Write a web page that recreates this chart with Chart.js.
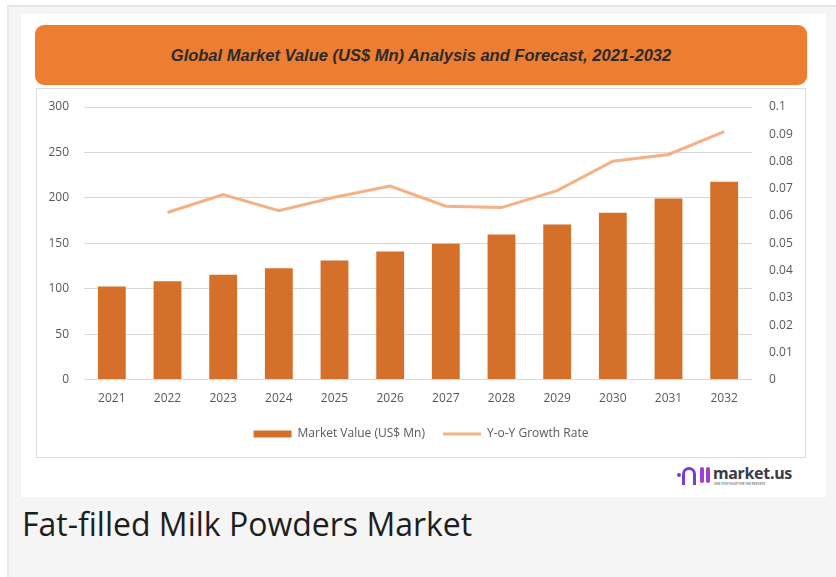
<!DOCTYPE html>
<html>
<head>
<meta charset="utf-8">
<script src="https://cdn.jsdelivr.net/npm/chart.js@4.4.1/dist/chart.umd.min.js"></script>
<style>
  body { margin: 0; background: #fff; font-family: "Open Sans", sans-serif; }
  .frame { position: absolute; left: 7px; top: 5px; width: 840px; height: 580px; background: #f5f5f5; border: 2px solid #e6e6e6; box-sizing: border-box; }
  .card { position: absolute; left: 21px; top: 14px; width: 805px; height: 483px; background: #fff; }
  .title { position: absolute; left: 35px; top: 25px; width: 772px; height: 60px; background: #ed7d31; border-radius: 9px;
           font: italic bold 16.5px "Liberation Sans Narrow", "Liberation Sans", sans-serif; color: #2b2b2b;
           display: flex; align-items: center; justify-content: center; }
  .box { position: absolute; left: 36px; top: 88px; width: 770px; height: 370px; border: 1px solid #dcdcdc; box-sizing: border-box; }
  .logo { position: absolute; left: 676px; top: 464px; width: 120px; height: 24px; }
  .logo .dot { position: absolute; left: 1px; top: 9px; width: 4px; height: 4px; border-radius: 50%; background: #6b3fd9; }
  .logo .arch { position: absolute; left: 6px; top: 3px; width: 8px; height: 15px; border: 3.5px solid #7a3cd8; border-bottom: none; border-radius: 7px 7px 0 0; }
  .logo .bar { position: absolute; top: 3px; width: 4px; height: 16px; border-radius: 2px; background: #a53bd6; }
  .logo .name { position: absolute; left: 37px; top: -2px; font: bold 16px "Noto Sans", sans-serif; color: #3b3b48; letter-spacing: -0.3px; }
  .logo .tag { position: absolute; left: 38px; top: 18px; font: bold 3px "Noto Sans", sans-serif; color: #888; white-space: nowrap; }
  .caption { position: absolute; left: 22px; top: 502px; font-size: 32px; color: #1e1e1e; }
</style>
</head>
<body>
<div class="frame"></div>
<div class="card"></div>
<div class="title">Global Market Value (US$ Mn) Analysis and Forecast, 2021-2032</div>
<div class="box"><canvas id="marketChart"></canvas></div>
<div class="logo">
  <span class="dot"></span><span class="arch"></span>
  <span class="bar" style="left:24px"></span><span class="bar" style="left:30px"></span>
  <span class="name">market.us</span><span class="tag">ONE STOP SHOP FOR THE REPORTS</span>
</div>
<div class="caption">Fat-filled Milk Powders Market</div>
<script>
// Dữ liệu biểu đồ
const years = ['2021', '2022', '2023', '2024', '2025', '2026', '2027', '2028', '2029', '2030', '2031', '2032'];
const marketValue = [102.5, 108.3, 115.5, 122.6, 131.0, 140.9, 149.5, 159.7, 170.7, 183.6, 199.4, 217.8];
const growthRate = [null, 0.0613, 0.0679, 0.0620, 0.0669, 0.0710, 0.0636, 0.0631, 0.0693, 0.0801, 0.0826, 0.0910];

const tickFont = { family: 'Open Sans', size: 12 };
const tickColor = '#595959';
const clear = 'rgba(0,0,0,0)';

const ctx = document.getElementById('marketChart').getContext('2d');
new Chart(ctx, {
    data: {
        labels: years,
        datasets: [
            {
                type: 'line',
                label: 'Y-o-Y Growth Rate',
                data: growthRate,
                yAxisID: 'y1',
                borderColor: '#f4b183',
                backgroundColor: '#f4b183',
                borderWidth: 3,
                pointRadius: 0,
                tension: 0,
                order: 0,
            },
            {
                type: 'bar',
                label: 'Market Value (US$ Mn)',
                data: marketValue,
                yAxisID: 'y',
                backgroundColor: '#d4702a',
                categoryPercentage: 1,
                barPercentage: 0.5,
                order: 1,
            },
        ],
    },
    options: {
        responsive: true,
        maintainAspectRatio: false,
        animation: false,
        layout: { padding: { top: 18, left: 0, right: 0, bottom: 7 } },
        plugins: {
            legend: {
                position: 'bottom',
                reverse: true,
                labels: {
                    usePointStyle: true,
                    pointStyleWidth: 38,
                    boxHeight: 7,
                    padding: 18,
                    color: tickColor,
                    font: tickFont,
                    generateLabels: function(chart) {
                        const items = Chart.defaults.plugins.legend.labels.generateLabels(chart);
                        items.forEach(function(item) {
                            item.pointStyle = chart.data.datasets[item.datasetIndex].type === 'line' ? 'line' : 'rect';
                        });
                        return items;
                    },
                },
            },
            tooltip: { enabled: false },
        },
        scales: {
            x: {
                grid: { display: false },
                border: { display: false },
                ticks: { color: tickColor, font: tickFont, padding: 4 },
            },
            y: {
                position: 'left',
                min: 0,
                max: 300,
                ticks: { stepSize: 50, color: tickColor, font: tickFont, padding: 2 },
                grid: { color: '#d9d9d9', drawTicks: true, tickLength: 13, tickColor: clear },
                border: { display: false },
                afterFit: function(scale) { scale.width = 47; },
            },
            y1: {
                position: 'right',
                min: 0,
                max: 0.1,
                ticks: { stepSize: 0.01, color: tickColor, font: tickFont, padding: 2,
                    callback: function(v) { return +v.toFixed(2); } },
                grid: { color: clear, drawOnChartArea: false, drawTicks: true, tickLength: 15, tickColor: clear },
                border: { display: false },
                afterFit: function(scale) { scale.width = 53; },
            },
        },
    },
});
</script>
</body>
</html>
